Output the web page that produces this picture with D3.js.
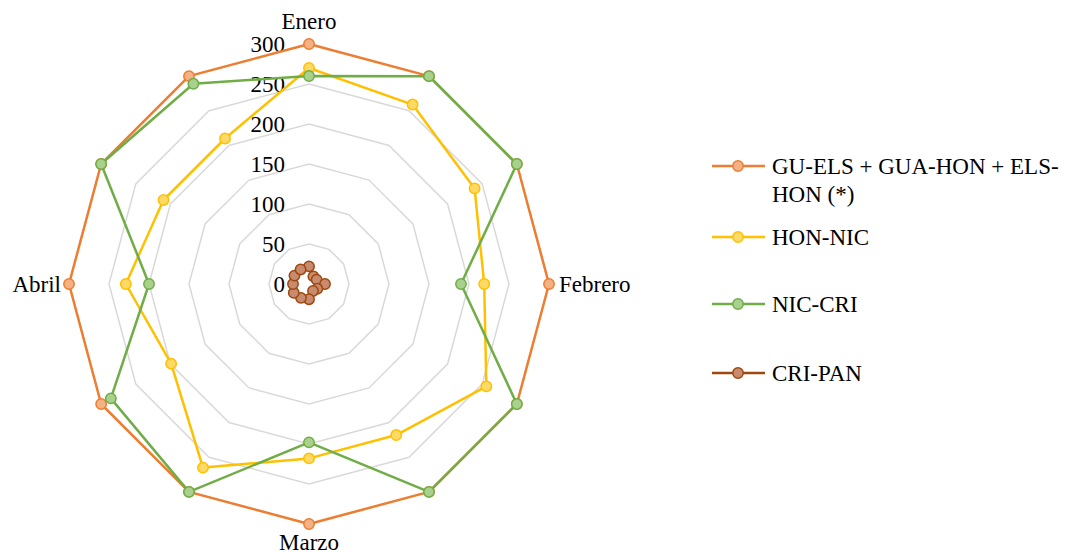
<!DOCTYPE html>
<html><head><meta charset="utf-8">
<script src="https://cdn.jsdelivr.net/npm/d3@7"></script>
<style>body{margin:0;background:#fff}svg{display:block}text{font-family:"Liberation Serif","Times New Roman",serif;fill:#000}</style>
</head><body><svg id="c" width="1071" height="554"></svg>
<script>
const categories = ["Enero","","","Febrero","","","Marzo","","","Abril","",""];
const seriesNames = ["GU-ELS + GUA-HON + ELS-HON (*)","HON-NIC","NIC-CRI","CRI-PAN"];
const sOrange = [300,300,300,300,300,300,300,300,300,300,300,300];
const sYellow = [270,259,239,219,256,218,218,265,199,229,210,210];
const sGreen  = [260,300,300,190,300,300,198,300,286,200,300,289];
const sBrown  = [22,11,11,20,12,10,19,20,22,20,21,21];
const tickValues = [0,50,100,150,200,250,300];
const lineColors = ["#ED7D31","#FFC000","#70AD47","#9E480E"];
const fillColors = ["#F4B183","#FFD966","#A9D18E","#C98B6F"];

const FS = 23;
const data = [sOrange,sYellow,sGreen,sBrown];
const svg = d3.select("#c");
const cx = 309, cy = 284;
const r = d3.scaleLinear().domain([0,300]).range([0,240]);
const ang = d3.scaleLinear().domain([0,categories.length]).range([0,2*Math.PI]);
const pt = (i,v)=>[cx + r(v)*Math.sin(ang(i)), cy - r(v)*Math.cos(ang(i))];

// grid rings
const idx = d3.range(categories.length);
tickValues.slice(1).forEach(t=>{
  svg.append("path")
    .attr("d", d3.line()(idx.map(i=>pt(i,t))) + "Z")
    .attr("fill","none").attr("stroke","#d9d9d9").attr("stroke-width",1.5);
});
// tick labels
svg.selectAll(".tick").data(tickValues).join("text")
  .attr("x", cx-24).attr("y", d=>cy - r(d)).attr("dy","0.33em")
  .attr("text-anchor","end").attr("font-size",FS).text(d=>d);

// category labels
categories.forEach((c,i)=>{
  if(!c) return;
  const [x,y] = pt(i, 300);
  const t = svg.append("text").attr("font-size",FS).text(c);
  if(i===0) t.attr("x",x).attr("y",y-15).attr("text-anchor","middle");
  else if(i===3) t.attr("x",x+10).attr("y",y).attr("dy","0.33em").attr("text-anchor","start");
  else if(i===6) t.attr("x",x).attr("y",y+26).attr("text-anchor","middle");
  else t.attr("x",x-8).attr("y",y).attr("dy","0.33em").attr("text-anchor","end");
});

// series
data.forEach((s,k)=>{
  const g = svg.append("g");
  g.append("path").attr("d", d3.line()(s.map((v,i)=>pt(i,v))) + "Z")
    .attr("fill","none").attr("stroke",lineColors[k]).attr("stroke-width",2.5).attr("stroke-linejoin","round");
  g.selectAll("circle").data(s).join("circle")
    .attr("cx",(v,i)=>pt(i,v)[0]).attr("cy",(v,i)=>pt(i,v)[1]).attr("r",5.2)
    .attr("fill",fillColors[k]).attr("stroke",lineColors[k]).attr("stroke-width",1.5);
});

// legend
const legY = [166,237,304,373];
const maxW = 300;
seriesNames.forEach((name,k)=>{
  const y = legY[k];
  svg.append("line").attr("x1",712).attr("x2",765).attr("y1",y).attr("y2",y)
    .attr("stroke",lineColors[k]).attr("stroke-width",2.5);
  svg.append("circle").attr("cx",738).attr("cy",y).attr("r",5.2)
    .attr("fill",fillColors[k]).attr("stroke",lineColors[k]).attr("stroke-width",1.5);
  const t = svg.append("text").attr("x",772).attr("y",y).attr("font-size",FS);
  const tokens = name.match(/[^\s-]+-?|\s+/g);
  let lines=[], cur="";
  const meas = svg.append("text").attr("font-size",FS);
  tokens.forEach(tok=>{
    const test = cur+tok;
    meas.text(test.trim());
    if(meas.node().getComputedTextLength()>maxW && cur.trim()){ lines.push(cur.trim()); cur = tok.trim(); }
    else cur = test;
  });
  lines.push(cur.trim()); meas.remove();
  lines.forEach((l,j)=>t.append("tspan").attr("x",772).attr("dy", j===0?"0.33em":"28px").text(l));
});
</script></body></html>
